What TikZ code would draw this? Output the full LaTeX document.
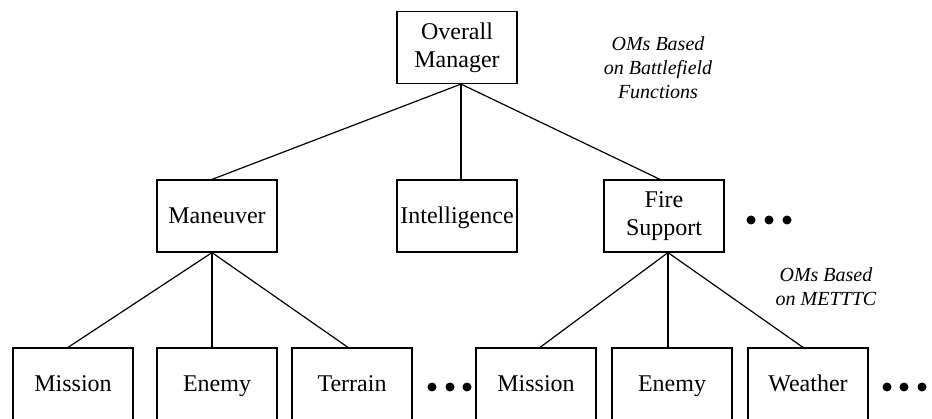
\documentclass[tikz,border=0pt]{standalone}
\usepackage{fontspec}
\setmainfont{Liberation Serif}
\begin{document}
\begin{tikzpicture}[x=1pt,y=-1pt,
  box/.style={draw,line width=1.2pt,rectangle,minimum width=120pt,minimum height=72pt,inner sep=0pt,align=center,font=\fontsize{24}{28}\selectfont},
  one/.style={text height=18pt,text depth=3pt},
  link/.style={line width=1.2pt},
  lbl/.style={align=center,font=\fontsize{20}{24}\selectfont\itshape},
  dot/.style={circle,fill,inner sep=0pt,minimum size=9pt}]
\useasboundingbox (0,0) rectangle (932,419);
\begin{scope}
\clip (0,0) rectangle (932,419);
\node[box] (om) at (457,47.5) {Overall\\Manager};
\node[box,one] (man) at (217,216) {Maneuver};
\node[box,one] (int) at (457,216) {Intelligence};
\node[box] (fs) at (664,216) {Fire\\Support};
\node[box,one] (m1) at (73,384) {Mission};
\node[box,one] (e1) at (217,384) {Enemy};
\node[box,one] (t1) at (352,384) {Terrain};
\node[box,one] (m2) at (536,384) {Mission};
\node[box,one] (e2) at (672,384) {Enemy};
\node[box,one] (w2) at (808,384) {Weather};
\coordinate (omb) at ([xshift=4pt]om.south);
\coordinate (mant) at ([xshift=-5pt]man.north);
\coordinate (manb) at ([xshift=-5pt]man.south);
\coordinate (fst) at ([xshift=-4pt]fs.north);
\coordinate (fsb) at ([xshift=4pt]fs.south);
\draw[link] (omb) -- (mant);
\draw[link] (omb) -- (omb |- int.north);
\draw[link] (omb) -- (fst);
\draw[link] (manb) -- ([xshift=-5pt]m1.north);
\draw[link] (manb) -- (manb |- e1.north);
\draw[link] (manb) -- ([xshift=-4pt]t1.north);
\draw[link] (fsb) -- ([xshift=4pt]m2.north);
\draw[link] (fsb) -- (fsb |- e2.north);
\draw[link] (fsb) -- ([xshift=-5pt]w2.north);
\end{scope}
\node[lbl] (l1) at (658,68) {OMs Based\\on Battlefield\\Functions};
\node[lbl] (l2) at (826,287) {OMs Based\\on METTTC};
\node[dot] (d1) at (751,220) {};
\node[dot] (d2) at (769,220) {};
\node[dot] (d3) at (787,220) {};
\node[dot] (d4) at (432,387) {};
\node[dot] (d5) at (450,387) {};
\node[dot] (d6) at (467,387) {};
\node[dot] (d7) at (887,387) {};
\node[dot] (d8) at (904,387) {};
\node[dot] (d9) at (922,387) {};
\end{tikzpicture}
\end{document}
